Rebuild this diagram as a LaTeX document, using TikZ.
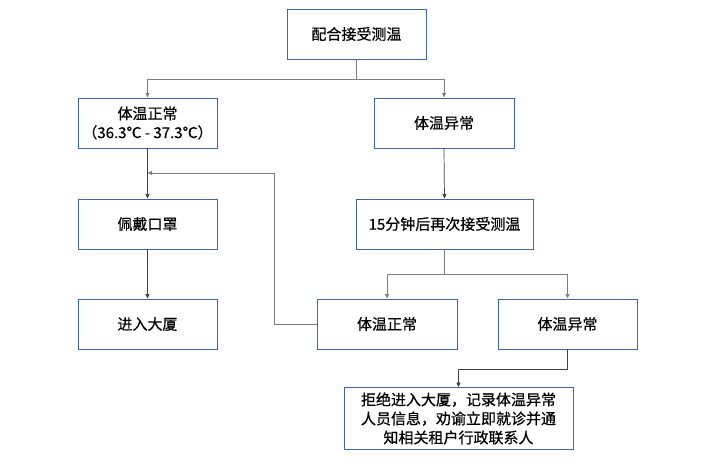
\documentclass[tikz,border=0pt]{standalone}
\usepackage{fontspec}
\setmainfont{Noto Sans CJK SC}[FakeBold=0.6]
\usetikzlibrary{arrows.meta}
\definecolor{boxblue}{HTML}{3F64A8}
\definecolor{lnk}{HTML}{808080}
\definecolor{lnkd}{HTML}{404040}
\tikzset{
  stepbox/.style={draw=boxblue, line width=0.9pt, fill=white, minimum height=50pt, align=center, inner sep=2pt, font=\fontsize{15}{19}\selectfont},
  conn/.style={draw=lnk, line width=0.8pt, -{Triangle[length=4.5pt,width=4pt]}},
  connd/.style={draw=lnkd, line width=0.7pt, -{Triangle[length=4.5pt,width=4pt]}}
}
\begin{document}
\begin{tikzpicture}[x=1pt,y=-1pt]
\useasboundingbox (0,0) rectangle (718,470);
\node[stepbox, minimum width=139pt] (top) at (356.5,34) {配合接受测温};
\node[stepbox, minimum width=139pt] (L1) at (147.5,123) {体温正常\\（36.3℃ - 37.3℃）};
\node[stepbox, minimum width=140pt] (R1) at (444,123) {体温异常};
\node[stepbox, minimum width=139pt] (L2) at (147.5,224) {佩戴口罩};
\node[stepbox, minimum width=139pt] (L3) at (147.5,324) {进入大厦};
\node[stepbox, minimum width=177pt] (R2) at (444.5,224) {15分钟后再次接受测温};
\node[stepbox, minimum width=140pt] (N) at (387,324) {体温正常};
\node[stepbox, minimum width=139pt] (A) at (567.5,324) {体温异常};
\node[stepbox, minimum width=229pt, minimum height=62pt] (B) at (458.5,418.5) {拒绝进入大厦，记录体温异常\\人员信息，劝谕立即就诊并通\\知相关租户行政联系人};
\coordinate (fb) at (274,173);
\draw[conn] (top.south) -- ++(0,20) -| (L1.north);
\draw[conn] (top.south) -- ++(0,20) -| (R1.north);
\draw[connd] (L1.south) -- (L2.north);
\draw[connd] (L2.south) -- (L3.north);
\draw[connd] (R1.south) -- (R2.north);
\draw[conn] (R2.south) -- ++(0,25) -| (N.north);
\draw[conn] (R2.south) -- ++(0,25) -| (A.north);
\draw[conn] (N.west) -| (fb) -- (L1.south |- fb);
\draw[connd] (A.south) -- ++(0,20) -| (B.north);
\end{tikzpicture}
\end{document}
